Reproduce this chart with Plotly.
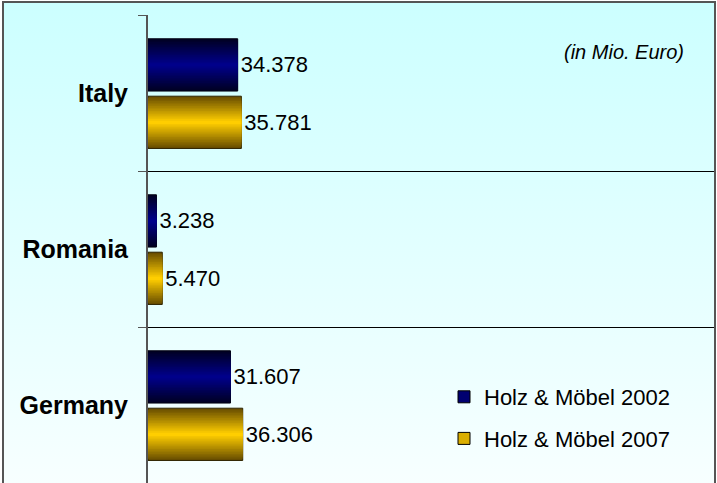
import base64
import plotly.graph_objects as go

# ---------------- data ----------------
countries = ["Italy", "Romania", "Germany"]
series_names = ["Holz & Möbel 2002", "Holz & Möbel 2007"]
values_2002 = [34378, 3238, 31607]
values_2007 = [35781, 5470, 36306]
unit_note = "(in Mio. Euro)"

# ---------------- helpers ----------------
def lerp(c1, c2, t):
    return "rgb(%d,%d,%d)" % tuple(round(a + (b - a) * t) for a, b in zip(c1, c2))

def fmt(v):
    return f"{v:,}".replace(",", ".")

FIG_W, FIG_H = 717, 483
L, R, T, B = 148, 1, 15, 0
PW, PH = FIG_W - L - R, FIG_H - T - B

def px_x(x):
    return (x - L) / PW

def px_y(y):
    return (FIG_H - B - y) / PH

BAR_W = 0.335
K = 16
styles = [
    dict(name=series_names[0], values=values_2002, center=-0.18,
         edge=(0, 0, 36), mid=(0, 0, 138), line="#000010"),
    dict(name=series_names[1], values=values_2007, center=0.188,
         edge=(105, 78, 0), mid=(255, 206, 0), line="#2e2400"),
]

fig = go.Figure()
for s in styles:
    for i in range(K):
        w = BAR_W * (1 - i / K)
        col = lerp(s["edge"], s["mid"], i / (K - 1))
        fig.add_trace(go.Bar(
            x=s["values"], y=countries, orientation="h",
            width=[w] * len(countries),
            offset=[s["center"] - w / 2] * len(countries),
            marker=dict(color=col,
                        line=dict(color=s["line"], width=1 if i == 0 else 0)),
            text=[fmt(v) for v in s["values"]] if i == 0 else None,
            textposition="outside" if i == 0 else "none",
            textfont=dict(family="Liberation Sans, Arial", size=22, color="#000000"),
            constraintext="none", cliponaxis=False,
            showlegend=False, legendgroup=s["name"], hoverinfo="skip",
        ))
    # legend entry (no drawn bars)
    fig.add_trace(go.Bar(
        x=[None] * len(countries), y=countries, orientation="h",
        name=s["name"], legendgroup=s["name"],
        marker=dict(color=lerp(s["edge"], s["mid"], 0.75),
                    line=dict(color="#000000", width=1)),
        showlegend=True,
    ))

# background gradient as an SVG image
svg = (
    '<svg xmlns="http://www.w3.org/2000/svg" width="100" height="100" preserveAspectRatio="none">'
    '<defs><linearGradient id="g" x1="0" y1="0" x2="0" y2="1">'
    '<stop offset="0" stop-color="#CCFFFF"/><stop offset="1" stop-color="#F7FFFF"/>'
    '</linearGradient></defs><rect width="100" height="100" fill="url(#g)"/></svg>'
)
src = "data:image/svg+xml;base64," + base64.b64encode(svg.encode()).decode()

fig.update_layout(
    width=FIG_W, height=FIG_H,
    margin=dict(l=L, r=R, t=T, b=B, pad=0),
    paper_bgcolor="white", plot_bgcolor="rgba(0,0,0,0)",
    barmode="overlay",
    font=dict(family="Liberation Sans, Arial", color="#000000"),
    images=[dict(source=src, xref="paper", yref="paper",
                 x=px_x(3), y=px_y(2), sizex=(715 - 3) / PW, sizey=(FIG_H - 2) / PH,
                 xanchor="left", yanchor="top", sizing="stretch", layer="below")],
    shapes=[dict(type="rect", xref="paper", yref="paper",
                 x0=px_x(3), x1=px_x(715), y0=px_y(FIG_H + 5), y1=px_y(2),
                 line=dict(color="#555555", width=2), fillcolor="rgba(0,0,0,0)",
                 layer="above")],
    annotations=[dict(text=unit_note, xref="paper", yref="paper",
                      x=px_x(686), y=px_y(52), xanchor="right", yanchor="middle",
                      showarrow=False,
                      font=dict(family="Liberation Sans, Arial", size=20, style="italic",
                                color="#000000"))],
    legend=dict(x=px_x(444), y=px_y(376), xanchor="left", yanchor="top",
                bgcolor="rgba(0,0,0,0)", traceorder="grouped", tracegroupgap=10,
                font=dict(family="Liberation Sans, Arial", size=22, color="#000000")),
    xaxis=dict(range=[0, 217700], visible=False, fixedrange=True),
    yaxis=dict(type="category", categoryorder="array", categoryarray=countries,
               range=[2.5, -0.5], tickson="boundaries", ticks="outside", ticklen=8,
               tickcolor="#555555", tickwidth=1,
               showgrid=True, gridcolor="#000000", gridwidth=1,
               showline=True, linecolor="#555555", linewidth=2,
               ticklabelstandoff=13, fixedrange=True,
               tickfont=dict(family="Liberation Sans, Arial", size=25, weight="bold",
                             color="#000000")),
)

fig.write_html("out.html", config={"displayModeBar": False},
               post_script="document.body.style.margin='0';")
